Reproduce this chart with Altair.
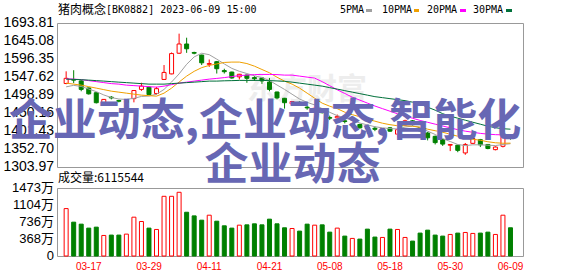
import altair as alt
import pandas as pd

# ---------------- data ----------------
dates = ["03-14", "03-15", "03-16", "03-17", "03-20", "03-21", "03-22", "03-23", "03-24", "03-27",
         "03-28", "03-29", "03-30", "03-31", "04-03", "04-04", "04-06", "04-07", "04-10", "04-11",
         "04-12", "04-13", "04-14", "04-17", "04-18", "04-19", "04-20", "04-21", "04-24", "04-25",
         "04-26", "04-27", "04-28", "05-04", "05-05", "05-08", "05-09", "05-10", "05-11", "05-12",
         "05-15", "05-16", "05-17", "05-18", "05-19", "05-22", "05-23", "05-24", "05-25", "05-26",
         "05-29", "05-30", "05-31", "06-01", "06-02", "06-05", "06-06", "06-07", "06-08", "06-09"]

open_ = [1530, 1541, 1537, 1518, 1505, 1478, 1493, 1484, 1479, 1489,
         1514, 1520, 1503, 1541, 1556, 1612, 1637, 1614, 1607, 1582,
         1589, 1565, 1561, 1548, 1553, 1546, 1545, 1534, 1507, 1490,
         1475, 1479, 1466, 1462, 1460, 1438, 1437, 1429, 1417, 1419,
         1411, 1409, 1405, 1410, 1393, 1418, 1429, 1411, 1396, 1387,
         1378, 1363, 1363, 1342, 1368, 1378, 1365, 1351, 1360, 1386]
close = [1544, 1539, 1514, 1502, 1478, 1487, 1491, 1482, 1484, 1511,
         1523, 1500, 1516, 1560, 1611, 1637, 1624, 1612, 1586, 1584,
         1570, 1562, 1545, 1555, 1544, 1543, 1537, 1514, 1491, 1478,
         1481, 1477, 1464, 1463, 1451, 1436, 1441, 1427, 1421, 1410,
         1408, 1406, 1408, 1401, 1405, 1429, 1419, 1402, 1383, 1370,
         1366, 1365, 1349, 1365, 1381, 1364, 1354, 1358, 1392, 1384]
high = [1563, 1566, 1539, 1519, 1506, 1488, 1496, 1486, 1486, 1512,
        1532, 1523, 1521, 1580, 1614, 1665, 1654, 1616, 1608, 1595,
        1591, 1570, 1562, 1556, 1554, 1550, 1547, 1545, 1508, 1491,
        1484, 1482, 1469, 1467, 1462, 1443, 1446, 1433, 1424, 1421,
        1412, 1414, 1409, 1412, 1408, 1432, 1431, 1412, 1399, 1389,
        1380, 1366, 1364, 1369, 1382, 1380, 1366, 1360, 1405, 1390]
low = [1528, 1531, 1509, 1500, 1476, 1473, 1487, 1479, 1477, 1479,
       1510, 1499, 1500, 1540, 1555, 1610, 1613, 1609, 1580, 1575,
       1557, 1557, 1543, 1541, 1532, 1537, 1529, 1509, 1487, 1462,
       1471, 1472, 1459, 1458, 1449, 1431, 1426, 1422, 1413, 1408,
       1394, 1401, 1392, 1399, 1383, 1416, 1416, 1400, 1376, 1365,
       1361, 1347, 1344, 1337, 1366, 1358, 1352, 1349, 1357, 1378]
volume = [1027, 733, 690, 604, 625, 445, 453, 453, 474, 841,
          747, 604, 575, 1293, 1293, 1380, 948, 869, 776, 884,
          754, 654, 604, 668, 675, 697, 675, 798, 697, 611,
          596, 539, 690, 668, 675, 517, 604, 431, 381, 366,
          582, 410, 402, 582, 575, 402, 323, 496, 560, 453,
          431, 467, 496, 510, 489, 496, 517, 467, 884, 611.5544]
ma5 = [1521, 1525, 1522, 1515, 1508, 1499, 1492, 1488, 1487, 1490,
       1495, 1496, 1501, 1514, 1534, 1556, 1582, 1602, 1612, 1608,
       1596, 1583, 1571, 1563, 1557, 1551, 1546, 1538, 1526, 1514,
       1501, 1488, 1479, 1472, 1462, 1452, 1443, 1437, 1430, 1423,
       1418, 1413, 1410, 1408, 1407, 1412, 1415, 1411, 1401, 1392,
       1381, 1373, 1365, 1362, 1364, 1364, 1363, 1362, 1365, 1367]
ma10 = [1531.0, 1528.3, 1525.6, 1521.5, 1517.5, 1513.4, 1509.3, 1506.6, 1503.9, 1501.2,
        1498.5, 1497.1, 1495.8, 1503.9, 1517.5, 1534.0, 1550.0, 1563.0, 1573.0, 1579.0,
        1583.0, 1587.0, 1588.0, 1588.0, 1584.0, 1577.0, 1568.0, 1559.0, 1547.0, 1536.5,
        1528.3, 1517.5, 1503.9, 1490.3, 1476.8, 1468.6, 1461.9, 1452.4, 1445.6, 1440.0,
        1433.4, 1428.0, 1422.5, 1418.5, 1415.7, 1415.7, 1414.4, 1411.7, 1406.3, 1402.2,
        1398.1, 1392.7, 1387.3, 1381.8, 1379.1, 1376.4, 1372.3, 1369.6, 1368.3, 1368.6]
ma20 = [1542.7, 1541.9, 1540.5, 1537.8, 1535.1, 1532.4, 1529.7, 1528.3, 1525.6, 1524.3,
        1522.9, 1521.5, 1520.2, 1522.9, 1527.0, 1531.0, 1533.7, 1536.5, 1539.2, 1541.9,
        1543.8, 1546.0, 1548.7, 1551.4, 1552.7, 1554.1, 1554.6, 1554.6, 1554.1, 1552.7,
        1552.7, 1550.0, 1547.3, 1544.6, 1535.0, 1524.0, 1513.0, 1503.0, 1493.0, 1485.0,
        1477.0, 1469.0, 1462.0, 1455.0, 1448.0, 1442.0, 1436.0, 1430.0, 1425.0, 1420.0,
        1415.0, 1410.0, 1405.0, 1401.0, 1398.0, 1395.0, 1393.0, 1391.5, 1391.0, 1390.0]
ma30 = [1541.9, 1541.1, 1540.3, 1539.2, 1537.8, 1536.5, 1535.1, 1533.7, 1532.4, 1531.0,
        1529.7, 1528.3, 1528.3, 1528.3, 1529.7, 1531.0, 1532.4, 1533.7, 1535.1, 1536.5,
        1536.5, 1537.3, 1537.8, 1538.4, 1538.4, 1538.4, 1538.4, 1537.8, 1537.0, 1535.9,
        1533.7, 1531.0, 1528.3, 1525.6, 1522.9, 1518.8, 1514.8, 1510.7, 1506.6, 1502.6,
        1498.5, 1494.4, 1491.7, 1489.0, 1486.3, 1483.6, 1479.5, 1474.1, 1465.9, 1457.8,
        1448.3, 1441.5, 1436.1, 1430.7, 1425.2, 1419.8, 1414.4, 1410.3, 1407.6, 1406.3]

price_ticks = [1303.97, 1352.70, 1401.43, 1450.16, 1498.89, 1547.62, 1596.35, 1645.08, 1693.81]
vol_ticks = [0, 368, 736, 1104, 1473]
vol_tick_labels = ["0", "368万", "736万", "1104万", "1473万"]
date_tick_idx = [3, 11, 19, 27, 35, 43, 51, 59]

header_name = "猪肉概念"
header_rest = "[BK0882] 2023-06-09 15:00"
ma_fields = ["ma5", "ma10", "ma20", "ma30"]
ma_names = ["5PMA", "10PMA", "20PMA", "30PMA"]
vol_caption = "成交量:6115544"
watermark_lines = ["企业动态,企业动态,智能化", "企业动态"]
logo_text = "东方财富"

# ---------------- styles ----------------
RED = "#ff0000"
GREEN = "#008000"
MA_COLORS = ["#a0a0a0", "#f0a000", "#ff00ff", "#00703a"]
GRID = "#cccccc"
W, H_PRICE, H_VOL = 466, 144, 68

df = pd.DataFrame({
    "i": list(range(len(dates))), "date": dates,
    "open": open_, "close": close, "high": high, "low": low, "vol": volume,
    "ma5": ma5, "ma10": ma10, "ma20": ma20, "ma30": ma30,
})
df["up"] = df["close"] >= df["open"]

xs = alt.Scale(domain=[-0.55, 60.0], nice=False, zero=False)
ps = alt.Scale(domain=[1303.97, 1693.81], nice=False, zero=False)
vs = alt.Scale(domain=[0, 1473], nice=False)

x_grid_axis = alt.Axis(values=date_tick_idx, labels=False, ticks=False, domain=False,
                       grid=True, gridColor=GRID, gridDash=[4, 3], title=None)
y_price_axis = alt.Axis(values=price_ticks, labels=False, ticks=False, domain=False,
                        grid=True, gridColor=GRID, title=None)
y_vol_axis = alt.Axis(values=vol_ticks, labels=False, ticks=False, domain=False,
                      grid=True, gridColor=GRID, title=None)

base = alt.Chart(df)
up = base.transform_filter("datum.up")
dn = base.transform_filter("!datum.up")
xe = alt.X("i:Q", scale=xs, axis=None, title=None)

one = pd.DataFrame({"t": [""]})


def label(text, x, y, font, size, color="#000000", weight="normal", align="left"):
    return alt.Chart(pd.DataFrame({"t": [text]})).mark_text(
        font=font, fontSize=size, fontWeight=weight, color=color, align=align,
        baseline="middle").encode(text="t:N", x=alt.value(x), y=alt.value(y))


# ---------------- price panel ----------------
logo = label(logo_text, 250, 67, "Noto Sans CJK SC", 30, "#ededed", "bold", "center")

wick_up = up.mark_rule(color=RED, strokeWidth=1).encode(
    x=alt.X("i:Q", scale=xs, axis=x_grid_axis, title=None),
    y=alt.Y("low:Q", scale=ps, axis=y_price_axis, title=None), y2="high:Q")
wick_dn = dn.mark_rule(color=GREEN, strokeWidth=1).encode(
    x=xe, y=alt.Y("low:Q", scale=ps, axis=None, title=None), y2="high:Q")
body_up = up.mark_bar(size=4, fill="#ffffff", stroke=RED, strokeWidth=1).encode(
    x=xe, y=alt.Y("open:Q", scale=ps, axis=None, title=None), y2="close:Q")
body_dn = dn.mark_bar(size=4, fill=GREEN, stroke=GREEN, strokeWidth=1).encode(
    x=xe, y=alt.Y("open:Q", scale=ps, axis=None, title=None), y2="close:Q")

ma_layers = [
    base.mark_line(color=c, strokeWidth=1).encode(
        x=xe, y=alt.Y(f + ":Q", scale=ps, axis=None, title=None))
    for f, c in zip(ma_fields, MA_COLORS)
]

price_labels = alt.Chart(pd.DataFrame({
    "v": price_ticks, "t": ["%.2f" % v for v in price_ticks]})).mark_text(
    font="Liberation Sans", fontSize=14, align="right", baseline="middle", color="#000000"
).encode(x=alt.value(-3), y=alt.Y("v:Q", scale=ps, axis=None, title=None), text="t:N")

header = [
    label(header_name, 1, -13.5, "Noto Sans CJK SC", 12),
    label(header_rest, 49, -13.5, "DejaVu Sans Mono", 10),
]
legend_text_x = [283, 325, 370, 416]
legend_sw_x = [(309, 315), (357, 362), (403, 409), (449, 455)]
legend = []
for name, c, tx, (s0, s1) in zip(ma_names, MA_COLORS, legend_text_x, legend_sw_x):
    legend.append(label(name, tx, -13, "DejaVu Sans Mono", 10))
    legend.append(alt.Chart(one).mark_rule(color=c, strokeWidth=3).encode(
        x=alt.value(s0), x2=alt.value(s1), y=alt.value(-12.5)))

anchor = alt.Chart(one).mark_rule(color="#ffffff", strokeWidth=1).encode(
    x=alt.value(-56), x2=alt.value(-55), y=alt.value(-21.5))

wm = [
    label(watermark_lines[0], 208, 99.5, "Noto Sans CJK SC", 44, "#6767b4", "bold", "center"),
    label(watermark_lines[1], 235.5, 144, "Noto Sans CJK SC", 44, "#6767b4", "bold", "center"),
]

price = alt.layer(wick_up, logo, wick_dn, body_up, body_dn, *ma_layers, price_labels,
                  *header, *legend, anchor, *wm).properties(width=W, height=H_PRICE)

# ---------------- volume panel ----------------
vbar_up = up.mark_bar(size=4, fill="#ffffff", stroke=RED, strokeWidth=1).encode(
    x=alt.X("i:Q", scale=xs, axis=x_grid_axis, title=None),
    y=alt.Y("vol:Q", scale=vs, axis=y_vol_axis, title=None))
vbar_dn = dn.mark_bar(size=4, fill=GREEN, stroke=GREEN, strokeWidth=1).encode(
    x=xe, y=alt.Y("vol:Q", scale=vs, axis=None, title=None))

vol_labels = alt.Chart(pd.DataFrame({"v": vol_ticks, "t": vol_tick_labels})).mark_text(
    font="Liberation Sans, Noto Sans CJK SC", fontSize=13, align="right", baseline="middle",
    color="#000000"
).encode(x=alt.value(-3), y=alt.Y("v:Q", scale=vs, axis=None, title=None), text="t:N")

date_labels = alt.Chart(pd.DataFrame({
    "i": date_tick_idx, "t": [dates[k] for k in date_tick_idx]})).mark_text(
    font="Liberation Sans", fontSize=10, align="center", baseline="middle", color=RED
).encode(x=alt.X("i:Q", scale=xs, axis=None, title=None), y=alt.value(H_VOL + 11), text="t:N")

caption = label(vol_caption, 1, -10, "Noto Sans CJK SC", 12)

vol = alt.layer(vbar_up, vbar_dn, vol_labels, date_labels, caption).properties(
    width=W, height=H_VOL)

chart = alt.vconcat(price, vol, spacing=21, bounds="flush").properties(
    padding={"left": 0, "top": 0, "right": 0, "bottom": 0},
    background="#ffffff",
).configure_view(stroke="#999999", strokeWidth=1)

chart.save("out.html", embed_options={"renderer": "svg", "actions": False})
